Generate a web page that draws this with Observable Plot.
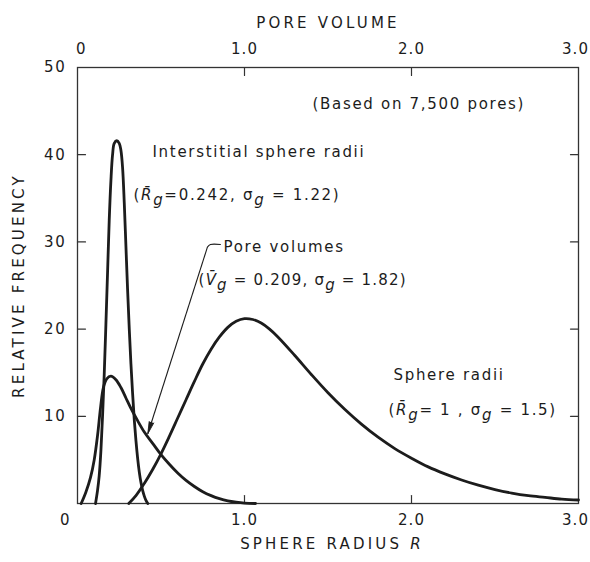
<!DOCTYPE html>
<html>
<head>
<meta charset="utf-8">
<script src="https://cdn.jsdelivr.net/npm/d3@7"></script>
<script src="https://cdn.jsdelivr.net/npm/@observablehq/plot@0.6"></script>
<style>
  html, body { margin: 0; padding: 0; background: #fff; }
  #chart svg { display: block; }
  #chart svg text { letter-spacing: 1.7px; }
</style>
</head>
<body>
<div id="chart"></div>
<script>
// ---- Data ----
// Interstitial sphere radii (Rg = 0.242, sigma_g = 1.22), x = sphere radius R
const interstitialX = [0.108, 0.120, 0.130, 0.140, 0.150, 0.160, 0.170, 0.180, 0.190, 0.200, 0.210, 0.220, 0.235, 0.250, 0.260, 0.270, 0.280, 0.290, 0.300, 0.310, 0.320, 0.330, 0.340, 0.350, 0.360, 0.370, 0.380, 0.390, 0.400, 0.410, 0.421];
const interstitialY = [0, 1.5, 3.2, 6.0, 10.0, 14.8, 20.5, 26.5, 32.5, 37.0, 40.0, 41.3, 41.6, 41.3, 40.5, 38.5, 34.5, 29.5, 24.5, 20.0, 16.0, 12.6, 9.6, 7.2, 5.2, 3.6, 2.4, 1.5, 0.85, 0.35, 0];

// Pore volumes (Vg = 0.209, sigma_g = 1.82), x = pore volume (top axis, same scale)
const poreX = [0.022, 0.050, 0.078, 0.100, 0.120, 0.138, 0.155, 0.175, 0.200, 0.230, 0.260, 0.290, 0.320, 0.360, 0.400, 0.450, 0.500, 0.550, 0.600, 0.650, 0.700, 0.750, 0.800, 0.850, 0.900, 0.950, 1.000, 1.066];
const poreY = [0, 1.3, 3.0, 5.0, 7.8, 11.0, 13.3, 14.3, 14.6, 14.2, 13.3, 12.1, 10.9, 9.5, 8.2, 6.9, 5.6, 4.5, 3.5, 2.65, 1.95, 1.35, 0.9, 0.55, 0.3, 0.15, 0.05, 0];

// Sphere radii (Rg = 1, sigma_g = 1.5)
const sphereX = [0.307, 0.35, 0.40, 0.45, 0.50, 0.55, 0.60, 0.65, 0.70, 0.75, 0.80, 0.85, 0.90, 0.95, 1.00, 1.05, 1.10, 1.15, 1.20, 1.30, 1.40, 1.50, 1.60, 1.70, 1.80, 1.90, 2.00, 2.10, 2.20, 2.30, 2.40, 2.50, 2.60, 2.70, 2.80, 2.90, 3.00];
const sphereY = [0, 0.9, 2.3, 3.9, 5.7, 7.7, 9.8, 11.9, 14.0, 16.0, 17.7, 19.1, 20.2, 20.9, 21.2, 21.1, 20.7, 20.0, 19.1, 17.0, 14.8, 12.7, 10.8, 9.1, 7.6, 6.3, 5.2, 4.2, 3.4, 2.7, 2.1, 1.6, 1.2, 0.9, 0.7, 0.5, 0.4];

// Axis ticks and labels
const xLabelTicks = [1, 2];
const xEndTick = [3];
const xInnerTicks = [1, 2];
const yLabelTicks = [10, 20, 30, 40, 50];
const yInnerTicks = [10, 20, 30, 40];
const zeroTick = [0];

// Titles
const titleTop = "PORE VOLUME";
const titleBottom = "SPHERE RADIUS *R*";
const titleLeft = "RELATIVE FREQUENCY";

// Annotations (text, anchor in data units)
const annoText = [
  "(Based on 7,500 pores)",
  "Interstitial sphere radii",
  "(R\u0304_g=0.242, \u03c3_g = 1.22)",
  "Pore volumes",
  "(V\u0304_g = 0.209, \u03c3_g = 1.82)",
  "Sphere radii",
  "(R\u0304_g= 1 , \u03c3_g = 1.5)"
];
const annoX = [1.407, 0.449, 0.335, 0.874, 0.725, 1.892, 1.862];
const annoY = [45.8, 40.3, 35.3, 29.4, 25.6, 14.7, 10.7];

// Leader from "Pore volumes" to its curve
const leaderCornerX = [0.856, 0.796, 0.778];
const leaderCornerY = [29.7, 29.7, 29.4];
const leaderArrow = [{x1: 0.778, y1: 29.4, x2: 0.421, y2: 8.0}];

// ---- Build tables ----
const rows = (xs, ys, s) => xs.map((x, i) => ({x, y: ys[i], series: s}));
const curves = [
  ...rows(interstitialX, interstitialY, "interstitial"),
  ...rows(poreX, poreY, "pore"),
  ...rows(sphereX, sphereY, "sphere")
];
const annos = annoText.map((t, i) => ({t, x: annoX[i], y: annoY[i]}));
const corner = leaderCornerX.map((x, i) => ({x, y: leaderCornerY[i]}));

const ink = "#1c1c1c";
const tickShape = {draw(context, l) { context.moveTo(0, 0); context.lineTo(0, -l); }};

const plot = Plot.plot({
  width: 590,
  height: 562,
  marginTop: 67,
  marginBottom: 59,
  marginLeft: 77,
  marginRight: 12,
  style: {fontFamily: "DejaVu Sans", fontSize: "15px", color: ink, background: "#fff"},
  x: {domain: [0, 3]},
  y: {domain: [0, 50]},
  marks: [
    Plot.frame({stroke: "#333", strokeWidth: 1.3}),
    // inward ticks
    Plot.vector(yInnerTicks, {y: d => d, frameAnchor: "left", rotate: 90, length: 8, anchor: "start", shape: tickShape, stroke: "#333", strokeWidth: 1.2}),
    Plot.vector(yInnerTicks, {y: d => d, frameAnchor: "right", rotate: -90, length: 8, anchor: "start", shape: tickShape, stroke: "#333", strokeWidth: 1.2}),
    Plot.vector(xInnerTicks, {x: d => d, frameAnchor: "bottom", rotate: 0, length: 8, anchor: "start", shape: tickShape, stroke: "#333", strokeWidth: 1.2}),
    Plot.vector(xInnerTicks, {x: d => d, frameAnchor: "top", rotate: 180, length: 8, anchor: "start", shape: tickShape, stroke: "#333", strokeWidth: 1.2}),
    // tick labels
    Plot.axisX(xLabelTicks, {anchor: "bottom", tickSize: 0, tickPadding: 11, tickFormat: d => d.toFixed(1)}),
    Plot.axisX(xEndTick, {anchor: "bottom", tickSize: 0, tickPadding: 11, dx: -3, tickFormat: d => d.toFixed(1)}),
    Plot.axisX(zeroTick, {anchor: "bottom", tickSize: 0, tickPadding: 11, dx: -12, tickFormat: d => String(d)}),
    Plot.axisX(xLabelTicks, {anchor: "top", tickSize: 0, tickPadding: 14, tickFormat: d => d.toFixed(1)}),
    Plot.axisX(xEndTick, {anchor: "top", tickSize: 0, tickPadding: 14, dx: -3, tickFormat: d => d.toFixed(1)}),
    Plot.axisX(zeroTick, {anchor: "top", tickSize: 0, tickPadding: 14, dx: 4, tickFormat: d => String(d)}),
    Plot.axisY(yLabelTicks, {anchor: "left", tickSize: 0, tickPadding: 11, tickFormat: d => String(d)}),
    // axis titles
    Plot.text([titleTop], {frameAnchor: "top", dy: -50, text: d => d}),
    Plot.text([titleBottom], {frameAnchor: "bottom", dy: 45, dx: 4, text: d => d}),
    Plot.text([titleLeft], {frameAnchor: "left", textAnchor: "middle", dx: -58, rotate: -90, text: d => d}),
    // curves
    Plot.line(curves, {x: "x", y: "y", z: "series", curve: "catmull-rom", stroke: ink, strokeWidth: 2.8, strokeLinejoin: "round", strokeLinecap: "round"}),
    // leader
    Plot.line(corner, {x: "x", y: "y", curve: "catmull-rom", stroke: ink, strokeWidth: 1.1}),
    Plot.link(leaderArrow, {x1: "x1", y1: "y1", x2: "x2", y2: "y2", stroke: ink, strokeWidth: 1.1}),
    Plot.vector(leaderArrow, {x: "x2", y: "y2", rotate: 197.7, length: 12, r: 2.4, shape: "spike", anchor: "end", fill: ink, stroke: ink, strokeWidth: 0.8}),
    // annotations
    Plot.text(annos, {x: "x", y: "y", text: "t", textAnchor: "start", fill: ink})
  ]
});

document.getElementById("chart").appendChild(plot);

// Rich text: subscripts, italics, overbars
const svgns = "http://www.w3.org/2000/svg";
function richify(el, str) {
  while (el.firstChild) el.removeChild(el.firstChild);
  const parts = str.split(/(_g|R\u0304|V\u0304|\*[^*]+\*)/);
  let lowered = false;
  for (const p of parts) {
    if (!p) continue;
    const ts = document.createElementNS(svgns, "tspan");
    if (p === "_g") {
      ts.textContent = "g";
      ts.setAttribute("font-style", "italic");
      ts.setAttribute("dy", "0.3em");
      lowered = true;
    } else {
      let txt = p, italic = false;
      if (p.startsWith("*")) { txt = p.slice(1, -1); italic = true; }
      if (p === "R\u0304" || p === "V\u0304") italic = true;
      ts.textContent = txt;
      if (italic) ts.setAttribute("font-style", "italic");
      if (lowered) { ts.setAttribute("dy", "-0.3em"); lowered = false; }
    }
    el.appendChild(ts);
  }
}
d3.select(plot).selectAll("text").each(function() {
  const t = this.textContent;
  if (t.includes("_g") || t.includes("*") || t.includes("\u0304")) richify(this, t);
  if (t === titleTop || t === titleLeft || t === titleBottom) this.style.letterSpacing = "3.2px";
  if (t === "1.0" || t === "2.0" || t === "3.0") this.style.letterSpacing = "1px";
  if (t.startsWith("(V\u0304")) this.style.letterSpacing = "1.2px";
});
</script>
</body>
</html>
